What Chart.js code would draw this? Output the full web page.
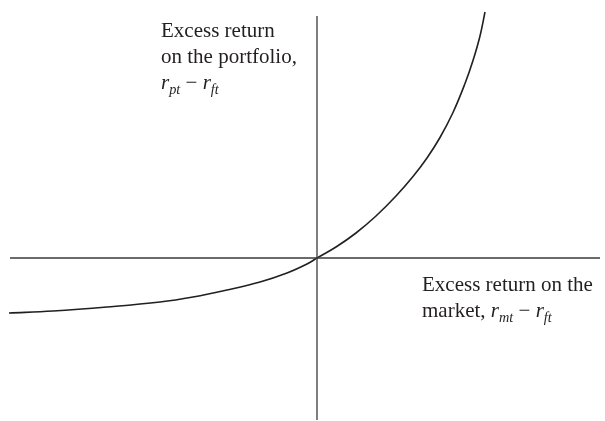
<!DOCTYPE html>
<html>
<head>
<meta charset="utf-8">
<script src="https://cdn.jsdelivr.net/npm/chart.js@4"></script>
<style>
    body { margin: 0; background: #fff; }
    #wrap { position: relative; width: 605px; height: 421px; }
    .lbl {
        position: absolute;
        font-family: "Liberation Serif", "DejaVu Serif", serif;
        font-size: 21px;
        line-height: 26px;
        color: #231f20;
        white-space: nowrap;
    }
    .lbl i { font-style: italic; }
    .lbl sub {
        font-size: 0.68em;
        line-height: 0;
        vertical-align: -0.32em;
        font-style: italic;
    }
</style>
</head>
<body>
<div id="wrap">
    <canvas id="graficoExceso"></canvas>
    <div class="lbl" style="left:161px; top:17px;">Excess return<br>on the portfolio,<br><i>r</i><sub>pt</sub> − <i>r</i><sub>ft</sub></div>
    <div class="lbl" style="left:422px; top:271px;">Excess return on the<br>market, <i>r</i><sub>mt</sub> − <i>r</i><sub>ft</sub></div>
</div>
<script>
// excess return on the market (x) vs excess return on the portfolio (y)
const excesoMercado = [-6.16, -5.28, -4.2, -3.14, -2.48, -1.8, -1.14, -0.6, -0.2, 0,
    0.38, 0.78, 1.18, 1.58, 1.92, 2.2, 2.46, 2.72, 2.96, 3.12, 3.26, 3.36];
const excesoCartera = [-1.1, -1.06, -0.98, -0.88, -0.78, -0.64, -0.48, -0.3, -0.12, 0,
    0.22, 0.5, 0.84, 1.24, 1.63, 2.0, 2.41, 2.91, 3.49, 3.95, 4.44, 4.92];

// axis extents (same units)
const ejeX = [-6.14, 5.66];
const ejeY = [-3.24, 4.84];

const colorLinea = "#231f20";

const dataGrafico = {
    datasets: [
        {
            label: "Eje x",
            data: ejeX.map((x) => ({ x: x, y: 0 })),
            borderColor: "#3a3a3a",
            borderWidth: 1.3,
            pointRadius: 0,
            showLine: true,
        },
        {
            label: "Eje y",
            data: ejeY.map((y) => ({ x: 0, y: y })),
            borderColor: "#3a3a3a",
            borderWidth: 1.3,
            pointRadius: 0,
            showLine: true,
        },
        {
            label: "Cartera",
            data: excesoMercado.map((x, i) => {
                return { x: x, y: excesoCartera[i] };
            }),
            borderColor: colorLinea,
            borderWidth: 1.6,
            pointRadius: 0,
            showLine: true,
            tension: 0.4,
        },
    ],
};

const configGrafico = {
    type: "scatter",
    data: dataGrafico,
    options: {
        responsive: true,
        maintainAspectRatio: false,
        animation: false,
        layout: { padding: 0 },
        clip: false,
        plugins: {
            legend: { display: false },
            tooltip: { enabled: false },
        },
        scales: {
            x: { type: "linear", min: -6.34, max: 5.76, display: false },
            y: { type: "linear", min: -3.26, max: 5.16, display: false },
        },
    },
};

const chartExceso = new Chart(
    document.getElementById("graficoExceso"),
    configGrafico
);
</script>
</body>
</html>
